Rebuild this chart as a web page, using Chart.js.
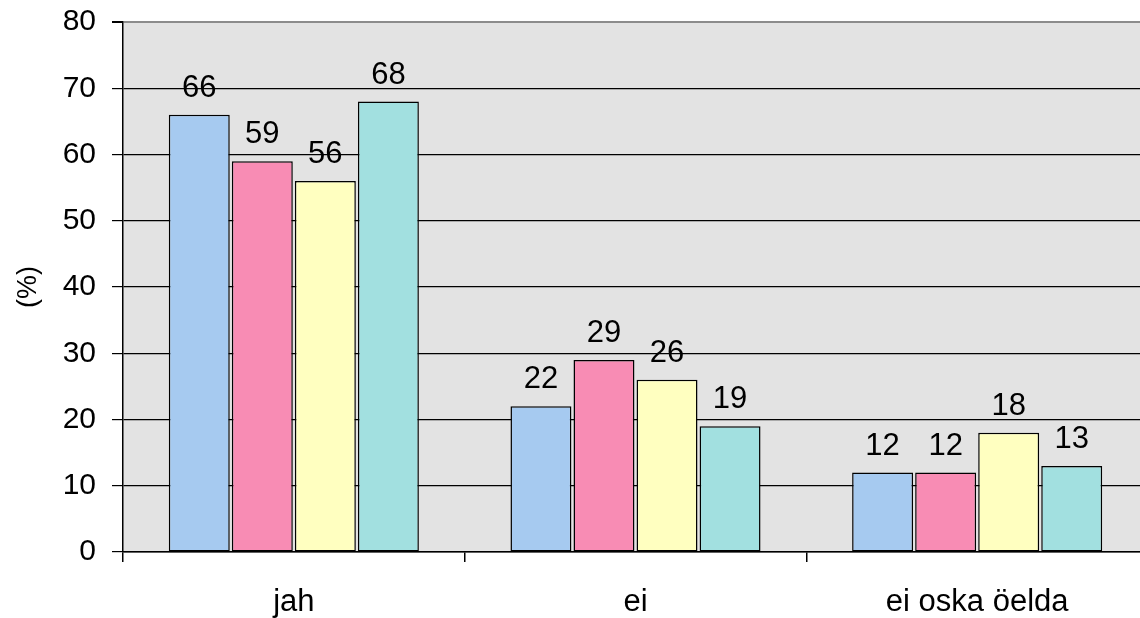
<!DOCTYPE html>
<html>
<head>
<meta charset="utf-8">
<script src="https://cdn.jsdelivr.net/npm/chart.js@4/dist/chart.umd.min.js"></script>
<style>
  html, body { margin: 0; padding: 0; background: #fff; overflow: hidden; }
  #wrap { width: 1148px; height: 618px; }
</style>
</head>
<body>
<div id="wrap"><canvas id="c" width="1148" height="618"></canvas></div>
<script>
const categories = ['jah', 'ei', 'ei oska öelda'];
const series1 = [66, 22, 12];
const series2 = [59, 29, 12];
const series3 = [56, 26, 18];
const series4 = [68, 19, 13];
const yTicks = [0, 10, 20, 30, 40, 50, 60, 70, 80];

const FONT = "'Liberation Sans', Arial, sans-serif";

const plotBg = {
  id: 'plotBg',
  beforeDraw(chart) {
    const { ctx, chartArea: a } = chart;
    ctx.save();
    ctx.fillStyle = '#e3e3e3';
    ctx.fillRect(a.left, a.top, a.right - a.left, a.bottom - a.top);
    ctx.restore();
  }
};

const valueLabels = {
  id: 'valueLabels',
  afterDatasetsDraw(chart) {
    const ctx = chart.ctx;
    ctx.save();
    ctx.font = '31px ' + FONT;
    ctx.fillStyle = '#000';
    ctx.textAlign = 'center';
    ctx.textBaseline = 'alphabetic';
    chart.data.datasets.forEach((ds, i) => {
      chart.getDatasetMeta(i).data.forEach((bar, j) => {
        ctx.fillText(ds.data[j], bar.x, bar.y - 18);
      });
    });
    ctx.restore();
  }
};

const bar = (data, color) => ({
  data: data,
  backgroundColor: color,
  borderColor: '#000',
  borderWidth: 1.5,
  borderSkipped: false,
  categoryPercentage: 0.738,
  barPercentage: 0.967
});

new Chart(document.getElementById('c'), {
  type: 'bar',
  data: {
    labels: categories,
    datasets: [
      bar(series1, '#a6caf0'),
      bar(series2, '#f88cb4'),
      bar(series3, '#ffffc0'),
      bar(series4, '#a2e0e0')
    ]
  },
  options: {
    responsive: false,
    animation: false,
    layout: { padding: { top: 22, right: 0, left: 0, bottom: 0 } },
    plugins: { legend: { display: false }, tooltip: { enabled: false } },
    scales: {
      x: {
        grid: { drawOnChartArea: false, drawTicks: true, tickLength: 10, color: '#000', lineWidth: 1.5 },
        border: { color: '#000', width: 1.5 },
        ticks: { color: '#000', font: { family: FONT, size: 31 }, padding: 22 },
        afterFit(s) { s.height = 66; s.paddingLeft = 0; s.paddingRight = 0; }
      },
      y: {
        min: 0,
        max: 80,
        afterBuildTicks(s) { s.ticks = yTicks.map(v => ({ value: v })); },
        grid: {
          color: ctx => (ctx.tick && ctx.tick.value === 80 ? '#8c8c8c' : '#000'),
          tickColor: '#000',
          lineWidth: ctx => (ctx.tick && ctx.tick.value === 80 ? 2 : 1.2),
          tickLength: 11
        },
        border: { color: '#000', width: 1.5 },
        ticks: { color: '#000', font: { family: FONT, size: 30 }, padding: 16 },
        title: { display: true, text: '(%)', color: '#000', font: { family: FONT, size: 27 }, padding: { top: 12, bottom: 0 } },
        afterFit(s) { s.width = 123; s.paddingTop = 0; s.paddingBottom = 0; }
      }
    }
  },
  plugins: [plotBg, valueLabels]
});
</script>
</body>
</html>
